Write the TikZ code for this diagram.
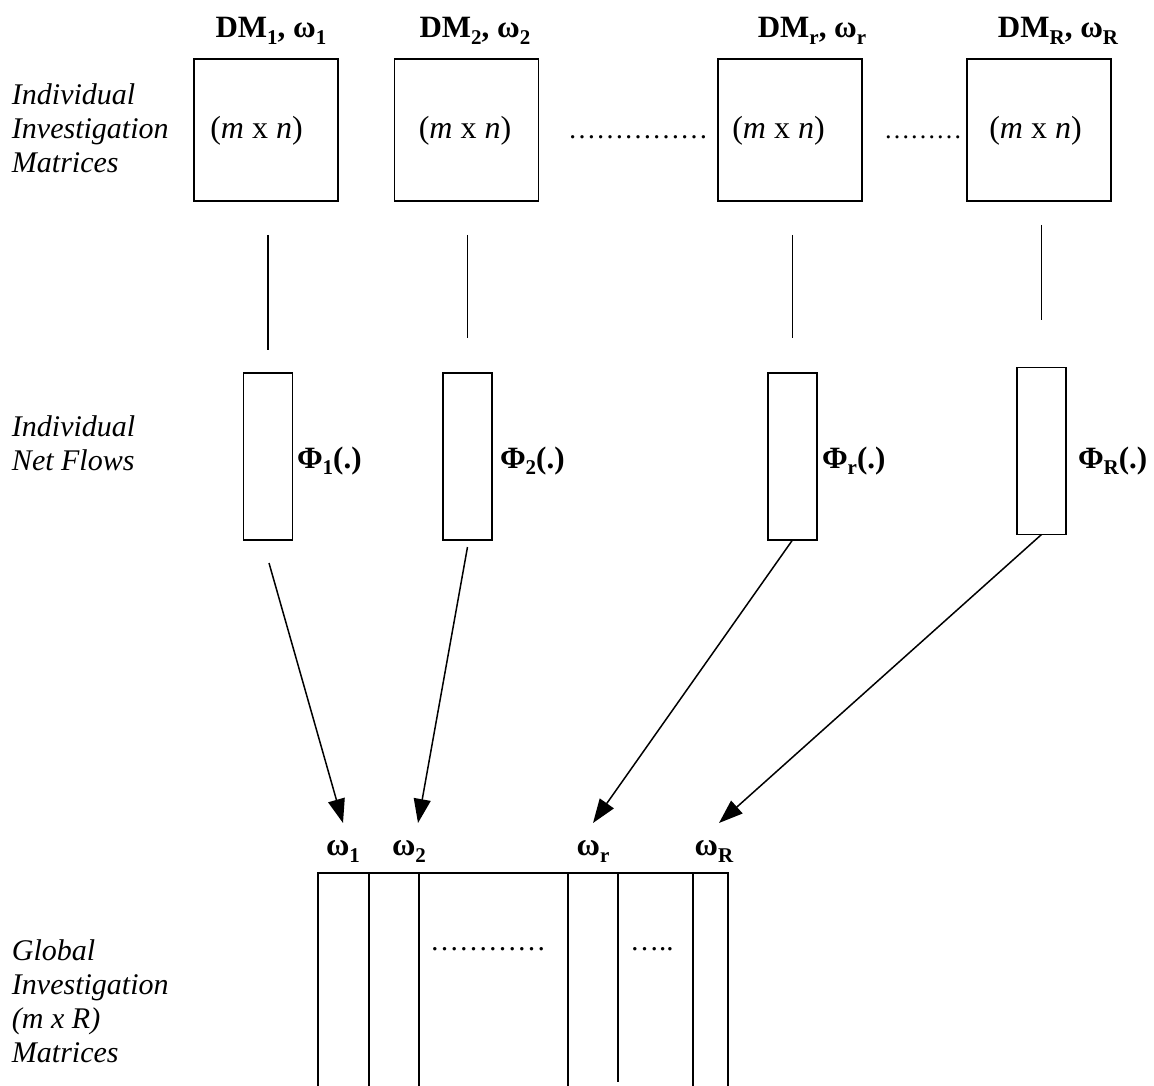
\documentclass[tikz,border=0pt]{standalone}
\usepackage{fontspec}
\setmainfont{Liberation Serif}
\usetikzlibrary{arrows.meta,calc}

% lowered index used in the bold labels
\newcommand\lowidx[1]{\raisebox{-0.22em}{\fontsize{21}{21}\selectfont #1}}

\begin{document}
\begin{tikzpicture}[x=1pt,y=-1pt,
  every node/.style={inner sep=0pt,outer sep=0pt},
  mbox/.style={draw,line width=1.4pt,minimum width=144pt,minimum height=142pt},
  fbox/.style={draw,line width=1.4pt,minimum width=49pt,minimum height=167pt},
  conn/.style={line width=1.5pt},
  arr/.style={line width=1.5pt,-{Triangle[length=24pt,width=17pt]}},
  sidetext/.style={font=\fontsize{30}{34}\selectfont\itshape,anchor=base west},
  head/.style={font=\fontsize{31}{34}\selectfont\bfseries,anchor=base},
  phitxt/.style={font=\fontsize{31}{34}\selectfont\bfseries,anchor=base west},
  dimtxt/.style={font=\fontsize{32}{34}\selectfont,anchor=base},
  wtxt/.style={font=\fontsize{32}{34}\selectfont\bfseries,anchor=base},
  dotrow/.style={font=\fontsize{#1}{34}\selectfont,anchor=base west},
  grid/.style={line width=1.4pt}]

\useasboundingbox (0,0) rectangle (1154,1086);

% row captions
\node[sidetext] (cap1) at (12,105)
  {\begin{tabular}[t]{@{}l@{}}Individual\\Investigation\\Matrices\end{tabular}};
\node[sidetext] (cap2) at (12,436)
  {\begin{tabular}[t]{@{}l@{}}Individual\\Net Flows\end{tabular}};
\node[sidetext] (cap3) at (12,960)
  {\begin{tabular}[t]{@{}l@{}}Global\\Investigation\\(m x R)\\Matrices\end{tabular}};

% decision makers and their weights
\node[head] (h1) at (271,38) {DM\lowidx{1}, ω\lowidx{1}};
\node[head] (h2) at (475,38) {DM\lowidx{2}, ω\lowidx{2}};
\node[head] (hr) at (812,38) {DM\lowidx{r}, ω\lowidx{r}};
\node[head] (hR) at (1058,38) {DM\lowidx{R}, ω\lowidx{R}};

% individual investigation matrices
\node[mbox] (m1) at (266,130) {};
\node[mbox] (m2) at (466.5,130) {};
\node[mbox] (mr) at (790,130) {};
\node[mbox] (mR) at (1039,130) {};
\node[dimtxt] (s1) at (256.5,139) {(\textit{m} x \textit{n})};
\node[dimtxt] (s2) at (465,139) {(\textit{m} x \textit{n})};
\node[dimtxt] (sr) at (778.5,139) {(\textit{m} x \textit{n})};
\node[dimtxt] (sR) at (1035.5,139) {(\textit{m} x \textit{n})};
\node[dotrow=28] (d1) at (568,139) {……………};
\node[dotrow=26] (d2) at (884,139) {………};

% individual net flows
\node[fbox] (f1) at (268,456.5) {};
\node[fbox] (f2) at (467.5,456.5) {};
\node[fbox] (fr) at (792.5,456.5) {};
\node[fbox] (fR) at (1041.5,451) {};
\node[phitxt] (p1) at (297,468) {Φ\lowidx{1}(.)};
\node[phitxt] (p2) at (500,468) {Φ\lowidx{2}(.)};
\node[phitxt] (pr) at (822,468) {Φ\lowidx{r}(.)};
\node[phitxt] (pR) at (1078,468) {Φ\lowidx{R}(.)};

\draw[conn] ($(m1.south -| f1.north)+(0,34)$) -- ($(f1.north)+(0,-23)$);
\draw[conn] ($(m2.south -| f2.north)+(0,34)$) -- ($(f2.north)+(0,-35)$);
\draw[conn] ($(mr.south -| fr.north)+(0,34)$) -- ($(fr.north)+(0,-35)$);
\draw[conn] ($(mR.south -| fR.north)+(0,24)$) -- ($(fR.north)+(0,-48)$);

% weights on the global matrix columns
\node[wtxt] (w1) at (343,855) {ω\lowidx{1}};
\node[wtxt] (w2) at (409,855) {ω\lowidx{2}};
\node[wtxt] (wr) at (593,855) {ω\lowidx{r}};
\node[wtxt] (wR) at (714,855) {ω\lowidx{R}};
\coordinate (tip1) at (343,823);
\coordinate (tip2) at (418,823);
\coordinate (tipr) at (593,823);
\coordinate (tipR) at (719,823);

\draw[arr] ($(f1.south)+(1,23)$) -- (tip1);
\draw[arr] ($(f2.south)+(0,7)$) -- (tip2);
\draw[arr] (fr.south) -- (tipr);
\draw[arr] (fR.south) -- (tipR);

% global investigation matrix
\coordinate (g0) at (318,873);
\coordinate (g1) at (728,873);
\draw[grid] (318,1090) -- (g0) -- (g1) -- (728,1090);
\foreach \cx in {369,419,568,693}
  \draw[grid] (\cx,873) -- (\cx,1090);
\draw[grid] (618,873) -- (618,1082);
\node[dotrow=29] (d3) at (430,950) {…………};
\node[dotrow=29] (d4) at (630,950) {…..};
\end{tikzpicture}
\end{document}
